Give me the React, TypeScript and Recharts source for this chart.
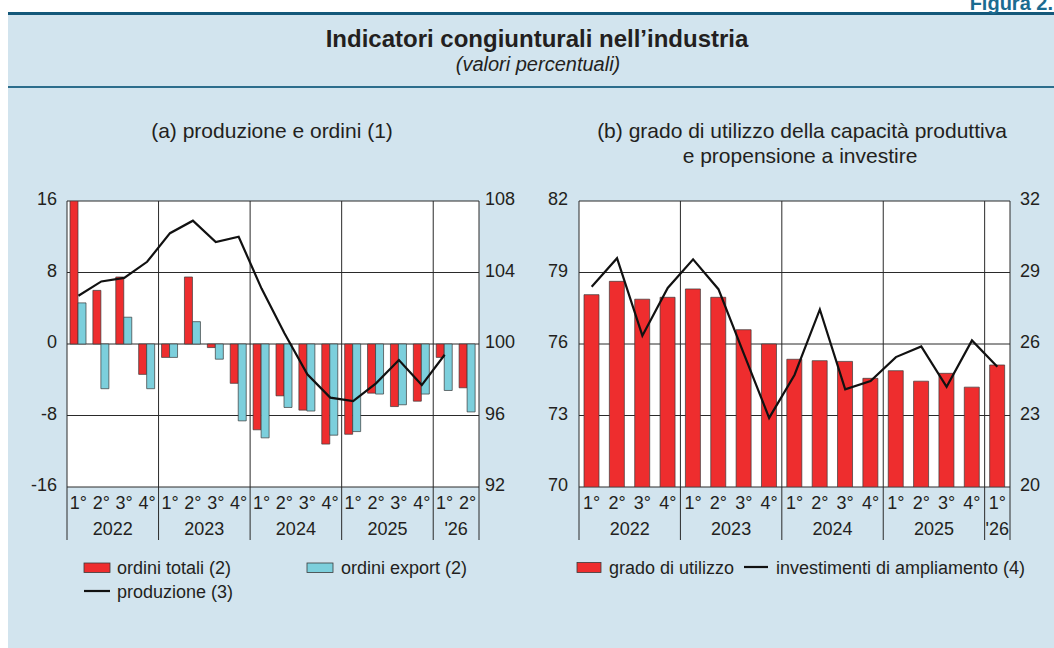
import React from 'react';
import { ComposedChart, Bar, Line, XAxis, YAxis, CartesianGrid, ReferenceLine } from 'recharts';

// ---------- Data ----------
const quarterKeysA = [
  '2022T1', '2022T2', '2022T3', '2022T4',
  '2023T1', '2023T2', '2023T3', '2023T4',
  '2024T1', '2024T2', '2024T3', '2024T4',
  '2025T1', '2025T2', '2025T3', '2025T4',
  '2026T1', '2026T2',
];
const quarterLabelsA = ['1°', '2°', '3°', '4°', '1°', '2°', '3°', '4°', '1°', '2°', '3°', '4°', '1°', '2°', '3°', '4°', '1°', '2°'];
const yearLabelsA = ['2022', '2022', '2022', '2022', '2023', '2023', '2023', '2023', '2024', '2024', '2024', '2024', '2025', '2025', '2025', '2025', "'26", "'26"];
const ordiniTotali = [16, 6.0, 7.5, -3.4, -1.5, 7.5, -0.4, -4.4, -9.6, -5.8, -7.4, -11.2, -10.1, -5.5, -7.0, -6.4, -1.5, -4.9];
const ordiniExport = [4.6, -5.0, 3.0, -5.0, -1.5, 2.5, -1.7, -8.6, -10.5, -7.1, -7.5, -10.2, -9.8, -5.6, -6.8, -5.6, -5.2, -7.6];
const produzione: (number | null)[] = [102.7, 103.5, 103.7, 104.6, 106.2, 106.9, 105.7, 106.0, 103.1, 100.6, 98.3, 97.0, 96.8, 97.8, 99.1, 97.7, 99.4, null];
const leftTicksA = [-16, -8, 0, 8, 16];
const rightTicksA = [92, 96, 100, 104, 108];

const quarterKeysB = [
  '2022T1', '2022T2', '2022T3', '2022T4',
  '2023T1', '2023T2', '2023T3', '2023T4',
  '2024T1', '2024T2', '2024T3', '2024T4',
  '2025T1', '2025T2', '2025T3', '2025T4',
  '2026T1',
];
const quarterLabelsB = ['1°', '2°', '3°', '4°', '1°', '2°', '3°', '4°', '1°', '2°', '3°', '4°', '1°', '2°', '3°', '4°', '1°'];
const yearLabelsB = ['2022', '2022', '2022', '2022', '2023', '2023', '2023', '2023', '2024', '2024', '2024', '2024', '2025', '2025', '2025', '2025', "'26"];
const gradoUtilizzo = [78.07, 78.63, 77.88, 77.96, 78.31, 77.96, 76.6, 76.0, 75.36, 75.3, 75.27, 74.56, 74.88, 74.44, 74.77, 74.19, 75.12];
const investimenti = [28.4, 29.6, 26.35, 28.35, 29.55, 28.3, 25.6, 22.9, 24.7, 27.45, 24.1, 24.45, 25.45, 25.9, 24.2, 26.15, 25.05];
const leftTicksB = [70, 73, 76, 79, 82];
const rightTicksB = [20, 23, 26, 29, 32];

// ---------- Tables built from the arrays ----------
const dataA = quarterKeysA.map((k, i) => ({ k, tot: ordiniTotali[i], exp: ordiniExport[i], prod: produzione[i] }));
const dataB = quarterKeysB.map((k, i) => ({ k, grado: gradoUtilizzo[i], inv: investimenti[i] }));

// ---------- Styles / layout ----------
const FONT = '"Liberation Sans", Arial, Helvetica, sans-serif';
const TXT = '#231f20';
const RED = '#ee2d2e';
const CYAN = '#7ccfdc';
const PANEL = '#d2e4ee';
const GRID = '#2a2a2a';
const TICK_FS = 18;
const LEG_FS = 18;

const TOP = 180;
const H = 367;
const XH = 60;
const MT = 21;
const PLOT_H = H - MT - XH; // 286
const SEP_PX = 53; // separator extension below the plot

const A_LEFT = 8;
const A_YW = 59;
const A_W = 530;
const A_BW = (A_W - 2 * A_YW) / quarterKeysA.length;

const B_LEFT = 520;
const B_YWL = 59;
const B_YWR = 40;
const B_W = 530;
const B_BW = (B_W - B_YWL - B_YWR) / quarterKeysB.length;

const yearStarts = (keys: string[], years: string[]) => keys.filter((k, i) => i === 0 || years[i] !== years[i - 1]);

const makeXTick = (labels: string[], years: string[], bw: number) => (props: any) => {
  const { x, y, payload } = props;
  const i = payload && typeof payload.index === 'number' ? payload.index : props.index;
  const yr = years[i];
  const first = years.indexOf(yr);
  const last = years.lastIndexOf(yr);
  return (
    <g>
      <text x={x} y={y + 22} textAnchor="middle" fontSize={TICK_FS} fill={TXT} fontFamily={FONT}>{labels[i]}</text>
      {i === first && (
        <text x={x + ((last - first) / 2) * bw} y={y + 48} textAnchor="middle" fontSize={TICK_FS} fill={TXT} fontFamily={FONT}>{yr}</text>
      )}
    </g>
  );
};

const YTick = (props: any) => {
  const { x, y, payload, textAnchor } = props;
  return (
    <text x={x} y={y - 2} dy="0.355em" textAnchor={textAnchor} fontSize={TICK_FS} fill={TXT} fontFamily={FONT}>
      {payload.value}
    </text>
  );
};

function ChartA() {
  const lo = leftTicksA[0];
  const hi = leftTicksA[leftTicksA.length - 1];
  const ext = lo - (SEP_PX * (hi - lo)) / PLOT_H;
  const starts = yearStarts(quarterKeysA, yearLabelsA);
  const lastKey = quarterKeysA[quarterKeysA.length - 1];
  return (
    <ComposedChart width={A_W} height={H} data={dataA} margin={{ top: MT, right: 0, bottom: 0, left: 0 }} barGap={0}>
      <CartesianGrid yAxisId="left" vertical={false} stroke={GRID} strokeWidth={1} fill="#ffffff" fillOpacity={1} />
      <XAxis dataKey="k" interval={0} height={XH} tickSize={0} tickMargin={0} axisLine={false} tickLine={false}
        tick={makeXTick(quarterLabelsA, yearLabelsA, A_BW)} />
      <YAxis yAxisId="left" orientation="left" width={A_YW} domain={[lo, hi]} ticks={leftTicksA} allowDataOverflow
        axisLine={false} tickLine={false} tickSize={0} tickMargin={10} tick={<YTick />} />
      <YAxis yAxisId="right" orientation="right" width={A_YW} domain={[rightTicksA[0], rightTicksA[rightTicksA.length - 1]]}
        ticks={rightTicksA} allowDataOverflow axisLine={false} tickLine={false} tickSize={0} tickMargin={6} tick={<YTick />} />
      <Bar yAxisId="left" dataKey="tot" fill={RED} stroke="#3a3a3a" strokeWidth={0.7} barSize={8} isAnimationActive={false} />
      <Bar yAxisId="left" dataKey="exp" fill={CYAN} stroke="#3a3a3a" strokeWidth={0.7} barSize={8} isAnimationActive={false} />
      {starts.map((k) => (
        <ReferenceLine key={k} yAxisId="left" segment={[{ x: k, y: hi }, { x: k, y: ext }]} position="start"
          ifOverflow="visible" stroke={GRID} strokeWidth={1} />
      ))}
      <ReferenceLine yAxisId="left" segment={[{ x: lastKey, y: hi }, { x: lastKey, y: ext }]} position="end"
        ifOverflow="visible" stroke={GRID} strokeWidth={1} />
      <Line yAxisId="right" dataKey="prod" stroke="#111111" strokeWidth={2.2} dot={false} isAnimationActive={false} />
    </ComposedChart>
  );
}

function ChartB() {
  const lo = leftTicksB[0];
  const hi = leftTicksB[leftTicksB.length - 1];
  const ext = lo - (SEP_PX * (hi - lo)) / PLOT_H;
  const starts = yearStarts(quarterKeysB, yearLabelsB);
  const lastKey = quarterKeysB[quarterKeysB.length - 1];
  return (
    <ComposedChart width={B_W} height={H} data={dataB} margin={{ top: MT, right: 0, bottom: 0, left: 0 }}>
      <CartesianGrid yAxisId="left" vertical={false} stroke={GRID} strokeWidth={1} fill="#ffffff" fillOpacity={1} />
      <XAxis dataKey="k" interval={0} height={XH} tickSize={0} tickMargin={0} axisLine={false} tickLine={false}
        tick={makeXTick(quarterLabelsB, yearLabelsB, B_BW)} />
      <YAxis yAxisId="left" orientation="left" width={B_YWL} domain={[lo, hi]} ticks={leftTicksB} allowDataOverflow
        axisLine={false} tickLine={false} tickSize={0} tickMargin={11} tick={<YTick />} />
      <YAxis yAxisId="right" orientation="right" width={B_YWR} domain={[rightTicksB[0], rightTicksB[rightTicksB.length - 1]]}
        ticks={rightTicksB} allowDataOverflow axisLine={false} tickLine={false} tickSize={0} tickMargin={10} tick={<YTick />} />
      <Bar yAxisId="left" dataKey="grado" fill={RED} stroke="#3a3a3a" strokeWidth={0.7} barSize={15} isAnimationActive={false} />
      {starts.map((k) => (
        <ReferenceLine key={k} yAxisId="left" segment={[{ x: k, y: hi }, { x: k, y: ext }]} position="start"
          ifOverflow="visible" stroke={GRID} strokeWidth={1} />
      ))}
      <ReferenceLine yAxisId="left" segment={[{ x: lastKey, y: hi }, { x: lastKey, y: ext }]} position="end"
        ifOverflow="visible" stroke={GRID} strokeWidth={1} />
      <Line yAxisId="right" dataKey="inv" stroke="#111111" strokeWidth={2.2} dot={false} isAnimationActive={false} />
    </ComposedChart>
  );
}

export default function App() {
  return (
    <div style={{ position: 'absolute', left: 0, top: 0, width: 1054, height: 648, overflow: 'hidden', background: '#ffffff', fontFamily: FONT }}>
      <svg width={1054} height={648} style={{ position: 'absolute', left: 0, top: 0 }}>
        <rect x={8} y={13} width={1046} height={635} fill={PANEL} />
        <rect x={8} y={12} width={1046} height={3} fill="#14587a" />
        <rect x={8} y={86} width={1046} height={2} fill="#2c6d8c" />
        <text x={1053} y={10} textAnchor="end" fontSize={20} fontWeight="bold" fill="#1b6b90" fontFamily={FONT}>Figura 2.</text>
        <text x={537} y={47} textAnchor="middle" fontSize={24} fontWeight="bold" fill={TXT} fontFamily={FONT}>Indicatori congiunturali nell’industria</text>
        <text x={538} y={71} textAnchor="middle" fontSize={20} fontStyle="italic" fill={TXT} fontFamily={FONT}>(valori percentuali)</text>
        <text x={272} y={138} textAnchor="middle" fontSize={21} fill={TXT} fontFamily={FONT}>(a) produzione e ordini (1)</text>
        <text x={802} y={138} textAnchor="middle" fontSize={21} fill={TXT} fontFamily={FONT}>(b) grado di utilizzo della capacità produttiva</text>
        <text x={800} y={163} textAnchor="middle" fontSize={21} fill={TXT} fontFamily={FONT}>e propensione a investire</text>

        {/* legend (a) */}
        <rect x={84} y={563} width={26} height={9.5} fill={RED} stroke="#3a3a3a" strokeWidth={0.8} />
        <text x={117} y={573.5} fontSize={LEG_FS} fill={TXT} fontFamily={FONT}>ordini totali (2)</text>
        <rect x={307} y={563} width={26} height={9.5} fill={CYAN} stroke="#3a3a3a" strokeWidth={0.8} />
        <text x={341} y={573.5} fontSize={LEG_FS} fill={TXT} fontFamily={FONT}>ordini export (2)</text>
        <line x1={84} x2={110} y1={591} y2={591} stroke="#111" strokeWidth={2.2} />
        <text x={117} y={597.5} fontSize={LEG_FS} fill={TXT} fontFamily={FONT}>produzione (3)</text>

        {/* legend (b) */}
        <rect x={577} y={562.5} width={24} height={10} fill={RED} stroke="#3a3a3a" strokeWidth={0.8} />
        <text x={609} y={573.5} fontSize={LEG_FS} fill={TXT} fontFamily={FONT}>grado di utilizzo</text>
        <line x1={744} x2={768} y1={567} y2={567} stroke="#111" strokeWidth={2.2} />
        <text x={776} y={573.5} fontSize={LEG_FS} fill={TXT} fontFamily={FONT}>investimenti di ampliamento (4)</text>
      </svg>
      <div style={{ position: 'absolute', left: A_LEFT, top: TOP, width: A_W, height: H }}>
        <ChartA />
      </div>
      <div style={{ position: 'absolute', left: B_LEFT, top: TOP, width: B_W, height: H }}>
        <ChartB />
      </div>
    </div>
  );
}
